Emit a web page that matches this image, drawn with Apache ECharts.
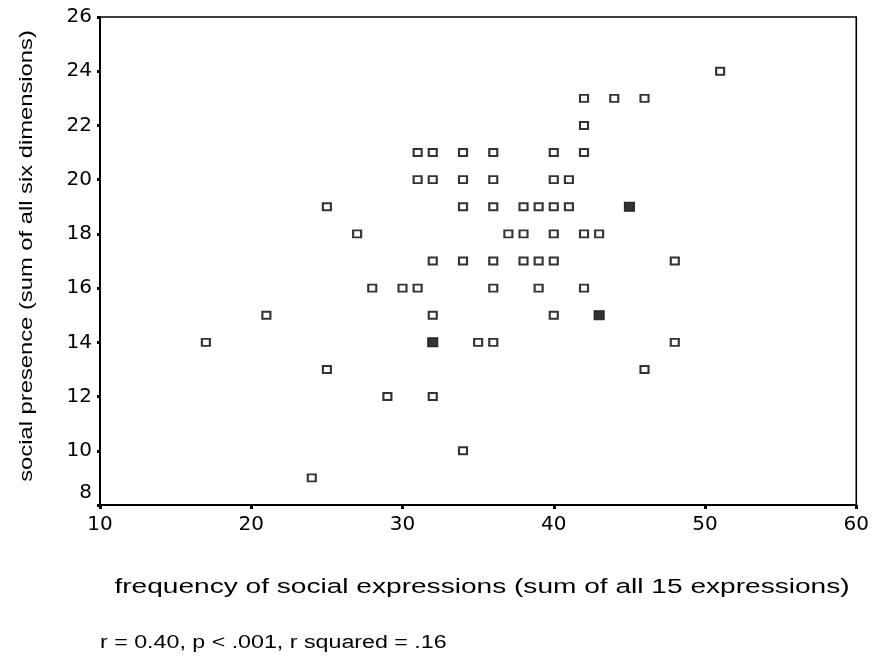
<!DOCTYPE html>
<html>
<head>
<meta charset="utf-8">
<script src="https://cdn.jsdelivr.net/npm/echarts@6/dist/echarts.min.js"></script>
<style>html,body{margin:0;padding:0;background:#fff;}#c{width:872px;height:656px;}</style>
</head>
<body>
<div id="c"></div>
<script>
// frequency of social expressions (x) and social presence (y), one case each
const expressions = [17,21,24,25,25,27,28,29,30,31,31,31,32,32,32,32,32,34,34,34,34,34,35,36,36,36,36,36,36,37,38,38,38,39,39,39,40,40,40,40,40,40,41,41,42,42,42,42,42,43,44,46,46,48,48,51];
const presence    = [14,15, 9,19,13,18,16,12,16,16,21,20,21,20,17,15,12,21,20,19,17,10,14,14,21,20,19,17,16,18,19,18,17,19,17,16,21,20,19,18,17,15,20,19,23,22,21,18,16,18,23,23,13,17,14,24];
// positions holding more than one case
const multiExpressions = [32,43,45];
const multiPresence    = [14,15,19];
const xTickRange = [10, 60, 10];
const yTickRange = [8, 26, 2];
const xTitle = 'frequency of social expressions (sum of all 15 expressions)';
const yTitle = 'social presence (sum of all six dimensions)';
const note = 'r = 0.40, p < .001, r squared = .16';

const font = '"Liberation Sans", Arial, Helvetica, sans-serif';
const tickFont = '"DejaVu Sans", "Liberation Sans", sans-serif';
const singles = expressions.map((x, i) => [x, presence[i]]);
const multis = multiExpressions.map((x, i) => [x, multiPresence[i]]);

const chart = echarts.init(document.getElementById('c'), null, {renderer: 'canvas'});
chart.setOption({
  backgroundColor: '#fff',
  animation: false,
  grid: {left: 100, right: 14, top: 17, bottom: 151, show: true, borderColor: '#000', borderWidth: 1.6, backgroundColor: 'transparent'},
  xAxis: {
    type: 'value', min: xTickRange[0], max: xTickRange[1], interval: xTickRange[2],
    axisLine: {lineStyle: {color: '#000', width: 2}},
    axisTick: {show: true, length: 4, lineStyle: {color: '#000', width: 3}},
    splitLine: {show: false},
    axisLabel: {color: '#000', fontSize: 20, fontFamily: tickFont, margin: 10}
  },
  yAxis: {
    type: 'value', min: yTickRange[0], max: yTickRange[1], interval: yTickRange[2],
    axisLine: {lineStyle: {color: '#000', width: 2}},
    axisTick: {show: true, length: 3, lineStyle: {color: '#000', width: 3}},
    splitLine: {show: false},
    axisLabel: {
      color: '#000', fontSize: 20, fontFamily: tickFont, margin: 8,
      formatter: v => v === yTickRange[0] ? '{low|' + v + '}' : String(v),
      rich: {low: {fontSize: 20, fontFamily: tickFont, color: '#000', padding: [0, 0, 24, 0]}}
    }
  },
  series: [
    {
      type: 'scatter', data: singles, symbol: 'rect', symbolSize: [8, 7],
      itemStyle: {color: '#fff', borderColor: '#000', borderWidth: 2}
    },
    {
      type: 'scatter', data: multis, symbol: 'rect', symbolSize: [10, 9],
      itemStyle: {color: '#000', borderColor: '#000', borderWidth: 1}
    }
  ],
  graphic: [
    {type: 'text', x: 482, y: 587, scaleX: 1.37,
     style: {text: xTitle, fontSize: 20.5, fontFamily: font, fill: '#000', align: 'center', verticalAlign: 'middle'}},
    {type: 'text', x: 100, y: 643, scaleX: 1.29,
     style: {text: note, fontSize: 18, fontFamily: font, fill: '#000', align: 'left', verticalAlign: 'middle'}},
    {type: 'text', x: 27, y: 256, rotation: Math.PI / 2, scaleX: 1.08, scaleY: 0.85,
     style: {text: yTitle, fontSize: 22, fontFamily: font, fill: '#000', align: 'center', verticalAlign: 'middle'}}
  ]
});
</script>
</body>
</html>
